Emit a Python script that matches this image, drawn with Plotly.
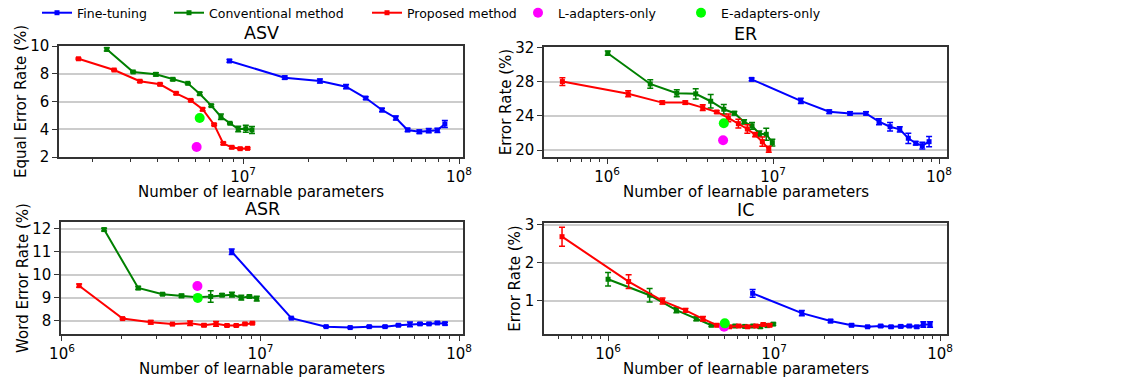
import plotly.graph_objects as go

# --- ASV (Equal Error Rate) ---
asv_ft_x = [8.65e6, 1.56e7, 2.27e7, 3.0e7, 3.7e7, 4.4e7, 5.1e7, 5.78e7, 6.55e7, 7.24e7, 7.94e7, 8.6e7]
asv_ft_y = [8.92, 7.72, 7.48, 7.07, 6.25, 5.39, 4.81, 3.95, 3.82, 3.9, 3.92, 4.38]
asv_ft_e = [0.1, 0.12, 0.15, 0.15, 0.1, 0.12, 0.15, 0.12, 0.12, 0.15, 0.15, 0.25]
asv_conv_x = [2.34e6, 3.1e6, 3.95e6, 4.73e6, 5.55e6, 6.3e6, 7.13e6, 7.9e6, 8.7e6, 9.5e6, 1.03e7, 1.1e7]
asv_conv_y = [9.76, 8.13, 7.96, 7.6, 7.31, 6.56, 5.7, 4.9, 4.43, 4.02, 4.04, 3.95]
asv_conv_e = [0.12, 0.05, 0.12, 0.08, 0.05, 0.1, 0.08, 0.2, 0.05, 0.2, 0.25, 0.25]
asv_prop_x = [1.73e6, 2.53e6, 3.33e6, 4.13e6, 4.9e6, 5.73e6, 6.5e6, 7.35e6, 8.1e6, 8.87e6, 9.7e6, 1.05e7]
asv_prop_y = [9.08, 8.27, 7.46, 7.24, 6.59, 6.08, 5.44, 4.33, 2.98, 2.70, 2.60, 2.62]
asv_prop_e = [0.06, 0.06, 0.08, 0.08, 0.08, 0.06, 0.1, 0.06, 0.08, 0.08, 0.06, 0.06]
asv_l_x, asv_l_y = [6.1e6], [2.72]
asv_e_x, asv_e_y = [6.3e6], [4.81]

# --- ER (Error Rate) ---
er_ft_x = [7.43e6, 1.47e7, 2.18e7, 2.91e7, 3.63e7, 4.35e7, 5.07e7, 5.8e7, 6.53e7, 7.24e7, 7.93e7, 8.71e7]
er_ft_y = [28.3, 25.77, 24.5, 24.3, 24.3, 23.33, 22.74, 22.43, 21.38, 20.8, 20.51, 20.98]
er_ft_e = [0.15, 0.3, 0.2, 0.2, 0.2, 0.35, 0.5, 0.3, 0.6, 0.2, 0.4, 0.6]
er_conv_x = [1.01e6, 1.82e6, 2.63e6, 3.42e6, 4.21e6, 5.05e6, 5.85e6, 6.69e6, 7.47e6, 8.27e6, 9.1e6, 9.9e6]
er_conv_y = [31.37, 27.76, 26.67, 26.6, 25.73, 24.79, 24.32, 23.3, 22.84, 21.92, 21.85, 20.87]
er_conv_e = [0.25, 0.5, 0.4, 0.6, 0.8, 0.55, 0.2, 0.25, 0.4, 0.3, 0.7, 0.4]
er_prop_x = [5.38e5, 1.34e6, 2.15e6, 2.96e6, 3.77e6, 4.58e6, 5.38e6, 6.18e6, 7.0e6, 7.8e6, 8.62e6, 9.42e6]
er_prop_y = [28.04, 26.6, 25.57, 25.57, 24.98, 24.47, 23.77, 23.1, 22.47, 21.8, 20.98, 20.08]
er_prop_e = [0.45, 0.35, 0.2, 0.2, 0.35, 0.15, 0.45, 0.5, 0.5, 0.25, 0.55, 0.35]
er_l_x, er_l_y = [5.0e6], [21.14]
er_e_x, er_e_y = [5.05e6], [23.14]

# --- ASR (Word Error Rate) ---
asr_ft_x = [7.16e6, 1.43e7, 2.14e7, 2.83e7, 3.53e7, 4.24e7, 4.95e7, 5.66e7, 6.36e7, 7.06e7, 7.78e7, 8.5e7]
asr_ft_y = [11.01, 8.12, 7.75, 7.71, 7.75, 7.75, 7.81, 7.85, 7.87, 7.87, 7.91, 7.88]
asr_ft_e = [0.12, 0.03, 0.03, 0.02, 0.04, 0.04, 0.04, 0.1, 0.05, 0.04, 0.05, 0.06]
asr_conv_x = [1.63e6, 2.42e6, 3.21e6, 4.0e6, 4.8e6, 5.61e6, 6.4e6, 7.18e6, 8.0e6, 8.79e6, 9.57e6]
asr_conv_y = [11.97, 9.43, 9.16, 9.09, 9.03, 9.06, 9.12, 9.14, 9.01, 9.06, 8.97]
asr_conv_e = [0.06, 0.06, 0.04, 0.07, 0.06, 0.25, 0.06, 0.1, 0.1, 0.06, 0.1]
asr_prop_x = [1.22e6, 2.02e6, 2.8e6, 3.6e6, 4.42e6, 5.19e6, 5.97e6, 6.78e6, 7.55e6, 8.35e6, 9.1e6]
asr_prop_y = [9.53, 8.1, 7.94, 7.86, 7.9, 7.81, 7.87, 7.8, 7.8, 7.87, 7.9]
asr_prop_e = [0.07, 0.04, 0.08, 0.03, 0.1, 0.05, 0.1, 0.04, 0.04, 0.04, 0.04]
asr_l_x, asr_l_y = [4.81e6], [9.52]
asr_e_x, asr_e_y = [4.83e6], [9.0]

# --- IC (Error Rate) ---
ic_ft_x = [7.43e6, 1.47e7, 2.19e7, 2.93e7, 3.66e7, 4.39e7, 5.07e7, 5.8e7, 6.53e7, 7.24e7, 7.93e7, 8.71e7]
ic_ft_y = [1.2, 0.68, 0.47, 0.36, 0.32, 0.34, 0.32, 0.33, 0.34, 0.32, 0.38, 0.38]
ic_ft_e = [0.1, 0.07, 0.04, 0.03, 0.02, 0.03, 0.03, 0.03, 0.03, 0.03, 0.07, 0.07]
ic_conv_x = [1.0e6, 1.78e6, 2.58e6, 3.4e6, 4.19e6, 5.02e6, 5.82e6, 6.67e6, 7.46e6, 8.26e6, 9.1e6, 9.9e6]
ic_conv_y = [1.57, 1.15, 0.76, 0.53, 0.36, 0.34, 0.34, 0.33, 0.34, 0.32, 0.35, 0.39]
ic_conv_e = [0.18, 0.18, 0.07, 0.05, 0.03, 0.03, 0.03, 0.03, 0.03, 0.04, 0.03, 0.03]
ic_prop_x = [5.28e5, 1.33e6, 2.13e6, 2.93e6, 3.73e6, 4.52e6, 5.39e6, 6.13e6, 6.93e6, 7.78e6, 8.61e6, 9.42e6]
ic_prop_y = [2.69, 1.51, 1.0, 0.75, 0.53, 0.36, 0.32, 0.34, 0.32, 0.34, 0.38, 0.36]
ic_prop_e = [0.25, 0.18, 0.08, 0.05, 0.06, 0.03, 0.03, 0.03, 0.03, 0.03, 0.03, 0.03]
ic_l_x, ic_l_y = [5.0e6], [0.32]
ic_e_x, ic_e_y = [5.05e6], [0.41]

FONT = 'DejaVu Sans'
COLORS = {'ft': '#0000ff', 'conv': '#008000', 'prop': '#ff0000', 'l': '#ff00ff', 'e': '#00ff00'}
NAMES = {'ft': 'Fine-tuning', 'conv': 'Conventional method', 'prop': 'Proposed method',
         'l': 'L-adapters-only', 'e': 'E-adapters-only'}
# each legend entry gets its own legend box so the spacing follows the reference
LEGENDS = {'ft': ('legend', 37), 'conv': ('legend2', 169), 'prop': ('legend3', 367),
           'l': ('legend4', 518), 'e': ('legend5', 681)}

W, H = 1144, 382


def dom_x(a, b):
    return [a / W, b / W]


def dom_y(top, bottom):
    return [1 - bottom / H, 1 - top / H]


panels = [
    dict(title='ASV', ylabel='Equal Error Rate (%)',
         series=[('ft', asv_ft_x, asv_ft_y, asv_ft_e), ('conv', asv_conv_x, asv_conv_y, asv_conv_e),
                 ('prop', asv_prop_x, asv_prop_y, asv_prop_e)],
         dots=[('l', asv_l_x, asv_l_y), ('e', asv_e_x, asv_e_y)],
         xd=(59, 463), yd=(46, 157), xr=[6.148, 8.0185], yr=[2, 10], yt=[2, 4, 6, 8, 10]),
    dict(title='ER', ylabel='Error Rate (%)',
         series=[('ft', er_ft_x, er_ft_y, er_ft_e), ('conv', er_conv_x, er_conv_y, er_conv_e),
                 ('prop', er_prop_x, er_prop_y, er_prop_e)],
         dots=[('l', er_l_x, er_l_y), ('e', er_e_x, er_e_y)],
         xd=(544, 947), yd=(47, 157), xr=[5.62, 8.048], yr=[19.18, 32.1], yt=[20, 24, 28, 32]),
    dict(title='ASR', ylabel='Word Error Rate (%)',
         series=[('ft', asr_ft_x, asr_ft_y, asr_ft_e), ('conv', asr_conv_x, asr_conv_y, asr_conv_e),
                 ('prop', asr_prop_x, asr_prop_y, asr_prop_e)],
         dots=[('l', asr_l_x, asr_l_y), ('e', asr_e_x, asr_e_y)],
         xd=(61, 463), yd=(222, 334), xr=[5.995, 8.02], yr=[7.43, 12.3], yt=[8, 9, 10, 11, 12]),
    dict(title='IC', ylabel='Error Rate (%)',
         series=[('ft', ic_ft_x, ic_ft_y, ic_ft_e), ('conv', ic_conv_x, ic_conv_y, ic_conv_e),
                 ('prop', ic_prop_x, ic_prop_y, ic_prop_e)],
         dots=[('l', ic_l_x, ic_l_y), ('e', ic_e_x, ic_e_y)],
         xd=(544, 947), yd=(223, 334), xr=[5.614, 8.042], yr=[0.13, 3.05], yt=[1, 2, 3]),
]

major = [1e5, 1e6, 1e7, 1e8]
major_txt = ['10<sup>5</sup>', '10<sup>6</sup>', '10<sup>7</sup>', '10<sup>8</sup>']
minor = [m * d for d in (1e5, 1e6, 1e7) for m in range(2, 10)]

fig = go.Figure()
annotations = []

for i, p in enumerate(panels):
    n = '' if i == 0 else str(i + 1)
    xa, ya = 'x' + n, 'y' + n

    for key, xs, ys, es in p['series']:
        fig.add_trace(go.Scatter(
            x=xs, y=ys, mode='lines+markers', name=NAMES[key],
            legend=LEGENDS[key][0], showlegend=(i == 0),
            line=dict(color=COLORS[key], width=2),
            marker=dict(color=COLORS[key], size=5, symbol='square'),
            error_y=dict(type='data', array=es, visible=True, color=COLORS[key], thickness=1.5, width=3),
            xaxis=xa, yaxis=ya
        ))
    for key, xs, ys in p['dots']:
        fig.add_trace(go.Scatter(
            x=xs, y=ys, mode='markers', name=NAMES[key],
            legend=LEGENDS[key][0], showlegend=(i == 0),
            marker=dict(color=COLORS[key], size=10),
            xaxis=xa, yaxis=ya
        ))

    axis_common = dict(showline=True, linecolor='#333333', linewidth=1.5, mirror=True,
                       ticks='outside', tickcolor='#333333', ticklen=5, automargin=False,
                       tickfont=dict(family=FONT, size=15, color='black'), zeroline=False)
    fig.layout['xaxis' + n] = dict(
        type='log', domain=dom_x(*p['xd']), range=p['xr'], anchor=ya,
        tickmode='array', tickvals=major, ticktext=major_txt, showgrid=False,
        minor=dict(ticks='outside', tickvals=minor, ticklen=3, tickcolor='#333333', showgrid=False),
        **axis_common
    )
    fig.layout['yaxis' + n] = dict(
        domain=dom_y(*p['yd']), range=p['yr'], anchor=xa,
        tickmode='array', tickvals=p['yt'], showgrid=True, gridcolor='#cccccc', gridwidth=2,
        title=dict(text=p['ylabel'], font=dict(family=FONT, size=15, color='black'), standoff=0),
        **axis_common
    )

    xc = sum(dom_x(*p['xd'])) / 2
    # panel title above the frame
    annotations.append(dict(
        text=p['title'], xref='paper', yref='paper', x=xc, y=dom_y(*p['yd'])[1],
        xanchor='center', yanchor='bottom', yshift=2, height=18, showarrow=False,
        font=dict(family=FONT, size=17.5, color='black')
    ))
    # x axis title, placed as text so it keeps clear of the panel title below
    annotations.append(dict(
        text='Number of learnable parameters', xref='paper', yref='paper',
        x=xc, y=1 - (p['yd'][1] + 35) / H,
        xanchor='center', yanchor='middle', height=16, showarrow=False,
        font=dict(family=FONT, size=15, color='black')
    ))

legend_common = dict(orientation='h', y=1.005, xanchor='left', yanchor='top',
                     font=dict(family=FONT, size=12.5, color='black'), bgcolor='rgba(0,0,0,0)', itemwidth=30)
for key, (lname, px) in LEGENDS.items():
    fig.layout[lname] = dict(x=px / W, **legend_common)

fig.update_layout(
    width=W, height=H,
    margin=dict(l=0, r=0, t=0, b=0, autoexpand=False),
    plot_bgcolor='white', paper_bgcolor='white',
    font=dict(family=FONT, size=14, color='black'),
    annotations=annotations,
)

# drop the page's default body margin so the figure sits at the window's corner
fig.write_html("out.html", config={'displayModeBar': False},
               post_script="document.body.style.margin='0';")
